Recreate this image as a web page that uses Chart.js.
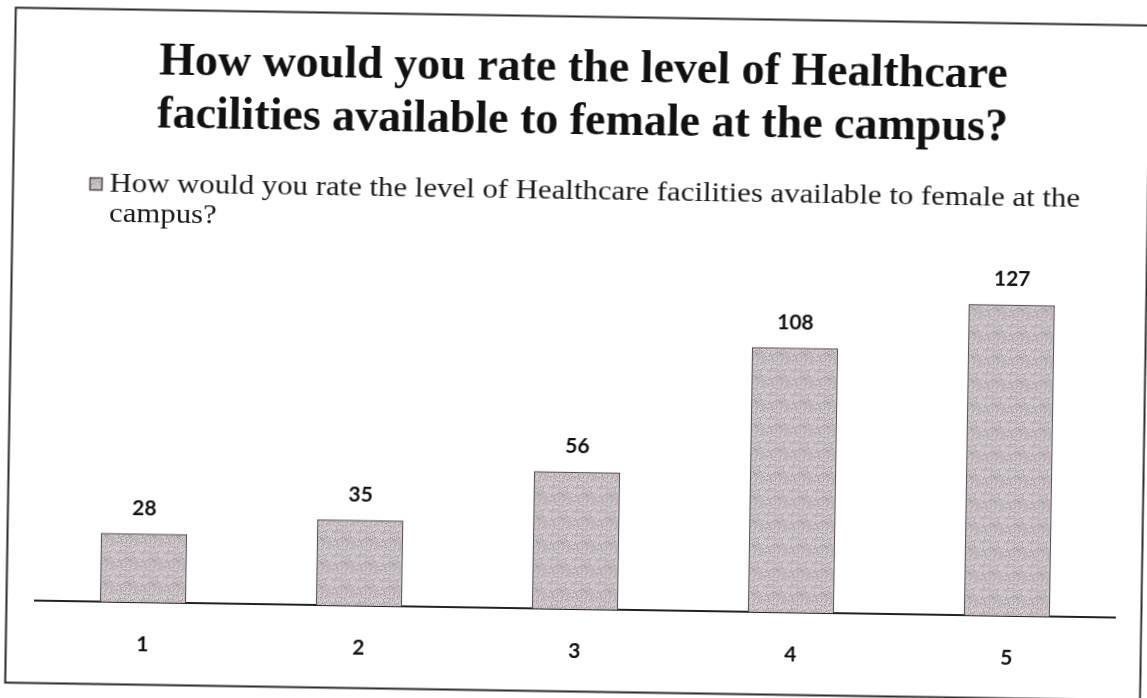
<!DOCTYPE html>
<html>
<head>
<meta charset="utf-8">
<script src="https://cdn.jsdelivr.net/npm/chart.js@4/dist/chart.umd.min.js"></script>
<style>
  html, body { margin: 0; padding: 0; background: #fff; overflow: hidden; }
  #wrap { position: absolute; left: 0; top: 0; width: 1147px; height: 698px;
          transform: rotate(0.9deg); transform-origin: 50% 50%; }
  canvas { display: block; }
</style>
</head>
<body>
<div id="wrap"><canvas id="c" width="1147" height="698"></canvas></div>
<script>
// Survey data
const titleLines = ['How would you rate the level of Healthcare', 'facilities available to female at the campus?'];
const seriesName = 'How would you rate the level of Healthcare facilities available to female at the campus?';
const categories = ['1', '2', '3', '4', '5'];
const counts = [28, 35, 56, 108, 127];

const SANS = 'Lato, "Open Sans", sans-serif';
const SERIF = '"Liberation Serif", "Times New Roman", serif';

// Speckled grey fill for the bars (deterministic hash texture)
function makeFill() {
  const N = 24;
  const c = document.createElement('canvas');
  c.width = c.height = N;
  const g = c.getContext('2d');
  const img = g.createImageData(N, N);
  for (let y = 0; y < N; y++) {
    for (let x = 0; x < N; x++) {
      let h = (x * 374761393 + y * 668265263) ^ 0x5bd1e995;
      h = Math.imul(h ^ (h >>> 13), 1274126177);
      h = (h ^ (h >>> 16)) >>> 0;
      const t = (h & 255) / 255;
      const streak = ((x + y * 2) % 7 === 0) ? -28 : 0;
      const base = 198 + Math.round((t - 0.5) * 60) + streak;
      const pink = ((h >>> 8) & 15) < 2 ? 14 : 0;
      const i = (y * N + x) * 4;
      img.data[i] = Math.min(255, base + pink);
      img.data[i + 1] = Math.min(255, base - 6);
      img.data[i + 2] = Math.min(255, base - 2 + (pink >> 1));
      img.data[i + 3] = 255;
    }
  }
  g.putImageData(img, 0, 0);
  return g.createPattern(c, 'repeat');
}
const barFill = makeFill();

// Page frame drawn behind everything
const framePlugin = {
  id: 'frame',
  beforeDraw(chart) {
    const ctx = chart.ctx;
    ctx.save();
    ctx.fillStyle = '#fff';
    ctx.fillRect(0, 0, chart.width, chart.height);
    ctx.strokeStyle = '#2e2a2c';
    ctx.lineWidth = 2;
    ctx.strokeRect(10.5, 16.5, 1135, 675);
    ctx.restore();
  }
};

// Legend: swatch plus wrapped series name
const legendPlugin = {
  id: 'wrappedLegend',
  afterDraw(chart) {
    const ctx = chart.ctx;
    ctx.save();
    ctx.fillStyle = barFill;
    ctx.fillRect(87, 185, 13, 13);
    ctx.strokeStyle = '#4a4448';
    ctx.lineWidth = 1.5;
    ctx.strokeRect(87.5, 185.5, 12, 12);
    ctx.font = '28px ' + SERIF;
    ctx.fillStyle = '#1a1a1a';
    ctx.textBaseline = 'middle';
    ctx.textAlign = 'left';
    const sx = 1.1;
    const label = chart.data.datasets[0].label;
    const maxW = 1000 / sx;
    const words = label.split(' ');
    const lines = [];
    let line = '';
    for (const w of words) {
      const test = line ? line + ' ' + w : w;
      if (ctx.measureText(test).width > maxW && line) { lines.push(line); line = w; }
      else line = test;
    }
    if (line) lines.push(line);
    ctx.translate(107, 0);
    ctx.scale(sx, 1);
    lines.forEach((l, i) => ctx.fillText(l, 0, 192 + i * 30));
    ctx.restore();
  }
};

// Value labels above each bar
const valueLabelPlugin = {
  id: 'valueLabels',
  afterDatasetsDraw(chart) {
    const ctx = chart.ctx;
    const meta = chart.getDatasetMeta(0);
    const vals = chart.data.datasets[0].data;
    ctx.save();
    ctx.font = 'bold 21px ' + SANS;
    ctx.fillStyle = '#111';
    ctx.textAlign = 'center';
    ctx.textBaseline = 'middle';
    meta.data.forEach((bar, i) => {
      ctx.fillText(String(vals[i]), bar.x, bar.y - 25);
    });
    ctx.restore();
  }
};

new Chart(document.getElementById('c'), {
  type: 'bar',
  data: {
    labels: categories,
    datasets: [{
      label: seriesName,
      data: counts,
      backgroundColor: barFill,
      borderColor: '#5a5458',
      borderWidth: 1.5,
      borderSkipped: 'start',
      categoryPercentage: 1,
      barPercentage: 0.4
    }]
  },
  options: {
    responsive: false,
    animation: false,
    events: [],
    layout: { padding: { left: 39, right: 28, top: 0, bottom: 29 } },
    plugins: {
      legend: { display: false },
      tooltip: { enabled: false },
      title: {
        display: true,
        text: titleLines,
        color: '#111',
        font: { family: SERIF, size: 46, weight: 'bold', lineHeight: 1.15 },
        padding: { top: 43, bottom: 117 }
      }
    },
    scales: {
      x: {
        grid: { display: false, drawTicks: false },
        border: { display: true, color: '#222', width: 2 },
        ticks: { color: '#111', font: { family: SANS, size: 21, weight: 'bold' }, padding: 30 },
        afterFit(scale) { scale.height = 60; }
      },
      y: { display: false, min: 0, max: 140 }
    }
  },
  plugins: [framePlugin, legendPlugin, valueLabelPlugin]
});
</script>
</body>
</html>
